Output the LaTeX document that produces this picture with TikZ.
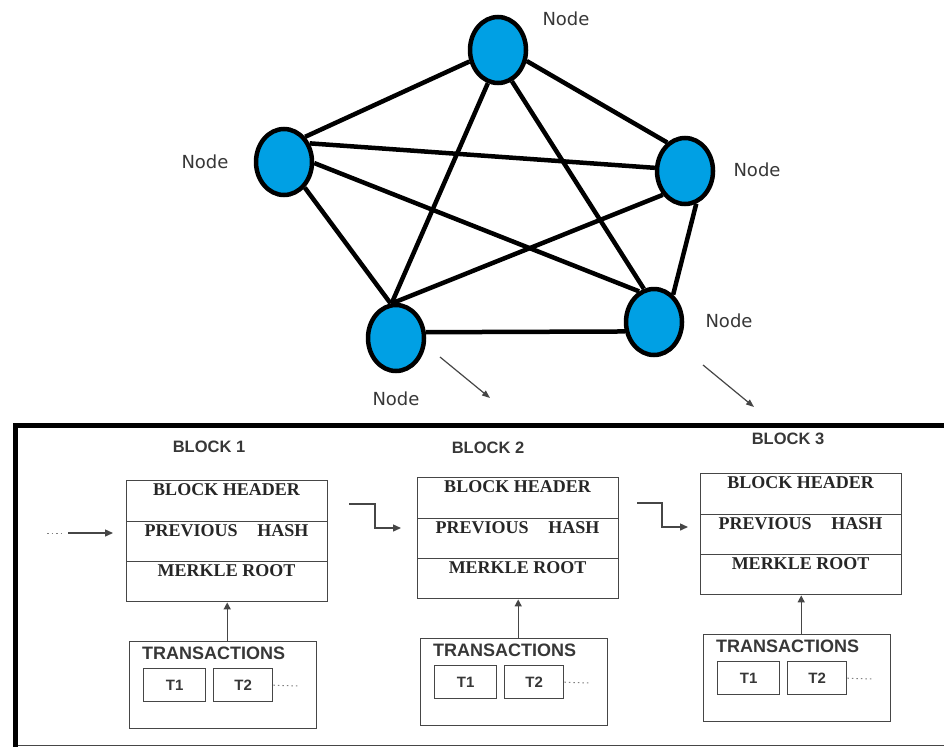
\documentclass[tikz,border=0pt]{standalone}
\usepackage{fontspec}
\setmainfont{Liberation Serif}
\newfontfamily\nodefont{DejaVu Sans}
\newfontfamily\lblfont{Liberation Sans}
\usetikzlibrary{shapes.geometric,arrows.meta,backgrounds}
\definecolor{nodeblue}{RGB}{0,160,228}
\definecolor{boxgray}{RGB}{70,70,70}
\definecolor{txtgray}{RGB}{55,55,55}
\tikzset{
  peer/.style={ellipse,draw=black,line width=4.5pt,fill=nodeblue,minimum width=56pt,minimum height=66pt,inner sep=0pt},
  link/.style={line width=4.5pt,black},
  peerlbl/.style={font=\nodefont\fontsize{18}{21}\selectfont,text=txtgray,inner sep=0pt},
  cell/.style={draw=boxgray,line width=1.4pt,minimum width=201pt,minimum height=41pt,inner sep=0pt,anchor=north west},
  txbox/.style={draw=boxgray,line width=1.4pt,minimum width=187pt,minimum height=87pt,inner sep=0pt,anchor=north west},
  tbox/.style={draw=boxgray,line width=1.4pt,minimum width=62pt,minimum height=33pt,inner sep=0pt,anchor=north west},
  hdrtxt/.style={font=\bfseries\fontsize{18}{21}\selectfont,text=black!85,inner sep=0pt,anchor=base},
  sanstxt/.style={font=\lblfont\bfseries\fontsize{16.5}{19}\selectfont,text=txtgray,inner sep=0pt},
  txlbl/.style={font=\lblfont\bfseries\fontsize{18}{21}\selectfont,text=txtgray,inner sep=0pt},
  ttxt/.style={font=\lblfont\bfseries\fontsize{15}{18}\selectfont,text=txtgray,inner sep=0pt},
  uparrow/.style={draw=boxgray,line width=1.4pt,-{Triangle[length=7pt,width=7pt]}},
  chain/.style={draw=boxgray,line width=1.4pt,-{Triangle[length=8pt,width=7pt]}},
  thinarrow/.style={draw=boxgray,line width=1.2pt,-{Triangle[length=8pt,width=6pt]}},
  dotline/.style={draw=gray,line width=1pt,dash pattern=on 1.5pt off 3pt}
}
% #1 prefix, #2 left, #3 top, #4 label, #5 label centre x, #6 label centre y
\newcommand\mkblock[6]{%
  \node[sanstxt] (#1lbl) at (#5,#6) {#4};
  \node[cell] (#1hdr) at (#2,#3) {};
  \node[cell,minimum height=40pt] (#1prev) at (#2,#3+41) {};
  \node[cell,minimum height=40pt] (#1merk) at (#2,#3+81) {};
  \node[hdrtxt] (#1hdrt) at (#2+100.5,#3+15) {BLOCK HEADER};
  \node[hdrtxt] (#1prevt) at (#2+100.5,#3+56) {PREVIOUS\hspace{1.1em}HASH};
  \node[hdrtxt] (#1merkt) at (#2+100.5,#3+96) {MERKLE ROOT};
  \node[txbox] (#1tx) at (#2+3,#3+161) {};
  \node[txlbl,anchor=base west] (#1txt) at (#2+16,#3+179) {TRANSACTIONS};
  \node[tbox] (#1ta) at (#2+17,#3+188) {};
  \node[tbox,minimum width=59pt] (#1tb) at (#2+87,#3+188) {};
  \node[ttxt] (#1tat) at (#1ta.center) {T1};
  \node[ttxt] (#1tbt) at (#1tb.center) {T2};
  \coordinate (#1dots) at (#2+172,#3+206);
  \draw[dotline] (#1tb.east) -- (#1dots);
  \draw[uparrow] (#1tx.north -| #1merk.south) -- (#1merk.south);
}
\begin{document}
\begin{tikzpicture}[x=1pt,y=-1pt]
\useasboundingbox (0,0) rectangle (944,747);
% peers
\node[peer] (ntop) at (498,50) {};
\node[peer] (nleft) at (284,162) {};
\node[peer] (nright) at (685,171) {};
\node[peer] (nbl) at (396,338) {};
\node[peer] (nbr) at (654,322) {};
\begin{scope}[on background layer]
  \draw[link] (ntop.202) -- (nleft.50);
  \draw[link] (ntop.339) -- (nright.122);
  \draw[link] (ntop.253) -- (nbl.97);
  \draw[link] (ntop.294) -- (nbr.107);
  \draw[link] (nleft.36) -- (nright.174);
  \draw[link] (nleft.309) -- (nbl.99);
  \draw[link] (nleft.358) -- (nbr.116);
  \draw[link] (nright.227) -- (nbl.95);
  \draw[link] (nright.289) -- (nbr.55);
  \draw[link] (nbl.11) -- (nbr.198);
\end{scope}
% labels
\node[peerlbl] (ltop) at (566,19) {Node};
\node[peerlbl] (lleft) at (205,162) {Node};
\node[peerlbl] (lright) at (757,170) {Node};
\node[peerlbl] (lbr) at (729,321) {Node};
\node[peerlbl] (lbl) at (396,399) {Node};
% thin arrows
\coordinate (a1s) at (440,357); \coordinate (a1e) at (490,398);
\coordinate (a2s) at (703,365); \coordinate (a2e) at (754,407);
\draw[thinarrow] (a1s) -- (a1e);
\draw[thinarrow] (a2s) -- (a2e);
% frame
\coordinate (fr) at (944,425);
\coordinate (ftl) at (15,425);
\coordinate (fbl) at (15,747);
\coordinate (fbl2) at (15,745.5);
\coordinate (fbr) at (944,745.5);
\draw[line width=1.5pt,boxgray] (fbl2) -- (fbr);
\draw[line width=5pt,black] (fr) -- (ftl) -- (fbl);
% blocks
\mkblock{b1}{126}{480}{BLOCK 1}{209}{447}
\mkblock{b2}{417}{477}{BLOCK 2}{488}{448}
\mkblock{b3}{700}{473}{BLOCK 3}{788}{439}
% chain arrows
\coordinate (in0) at (68,533);
\coordinate (in1) at (113,533);
\coordinate (d0) at (62,533);
\coordinate (d1) at (47,533);
\draw[dotline] (d1) -- (d0);
\draw[chain] (in0) -- (in1);
\coordinate (c1) at (349,504);
\coordinate (c1b) at (375,504);
\coordinate (c1c) at (375,528);
\coordinate (c1d) at (401,528);
\draw[chain] (c1) -- (c1b) -- (c1c) -- (c1d);
\coordinate (c2) at (637,503);
\coordinate (c2b) at (662,503);
\coordinate (c2c) at (662,527);
\coordinate (c2d) at (688,527);
\draw[chain] (c2) -- (c2b) -- (c2c) -- (c2d);
\end{tikzpicture}
\end{document}
